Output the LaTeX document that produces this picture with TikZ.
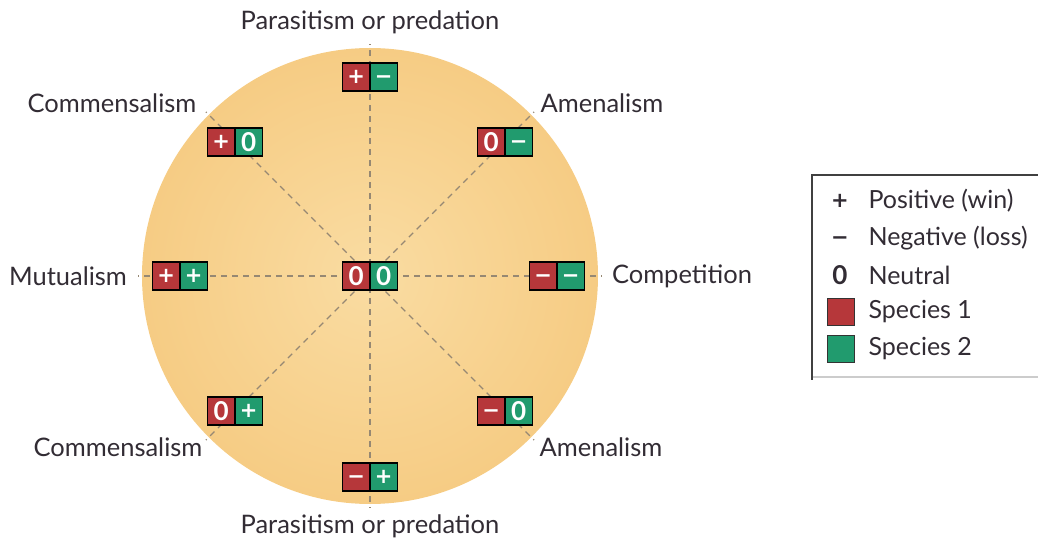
\documentclass[tikz,border=0pt]{standalone}
\usepackage{fontspec}
\setmainfont{Lato}
\newfontfamily\signfont{DejaVu Sans}

\definecolor{spone}{RGB}{182,55,58}
\definecolor{sptwo}{RGB}{33,155,110}
\definecolor{ink}{RGB}{50,44,52}
\definecolor{discout}{RGB}{246,204,132}
\definecolor{discin}{RGB}{250,220,162}
\definecolor{dashgray}{RGB}{150,136,115}

\newcommand{\splus}{{\signfont\fontsize{21}{21}\selectfont\bfseries +}}
\newcommand{\sminus}{{\signfont\fontsize{21}{21}\selectfont\bfseries \vphantom{+}−}}

\tikzset{
  cell/.style={draw=black, line width=1.4pt, minimum width=27.5pt, minimum height=28pt, inner sep=0pt, text=white, font=\fontsize{26}{26}\selectfont\bfseries},
  cellone/.style={cell, fill=spone},
  celltwo/.style={cell, fill=sptwo},
  guide/.style={dash pattern=on 6pt off 5pt, line width=1.3pt, draw=dashgray},
  relname/.style={text=ink, font=\fontsize{25.5}{28}\selectfont},
  keysym/.style={text=ink, font=\fontsize{26}{28}\selectfont\bfseries},
  keytext/.style={text=ink, font=\fontsize{25}{28}\selectfont, anchor=west},
  keybox/.style={draw=black!80, line width=1pt, minimum size=27pt, inner sep=0pt},
}

\begin{document}
\begin{tikzpicture}[x=1pt, y=1pt]
\useasboundingbox (-370,-267) rectangle (668,276);
\coordinate (o) at (0,0);
\shade[inner color=discin, outer color=discout] (o) circle (228);
\coordinate (rE) at (0:232);
\coordinate (rNE) at (45:232);
\coordinate (rN) at (90:232);
\coordinate (rNW) at (135:232);
\coordinate (rW) at (180:232);
\coordinate (rSW) at (225:232);
\coordinate (rS) at (270:232);
\coordinate (rSE) at (315:232);
\draw[guide] (o) -- (rE);
\draw[guide] (o) -- (rNE);
\draw[guide] (o) -- (rN);
\draw[guide] (o) -- (rNW);
\draw[guide] (o) -- (rW);
\draw[guide] (o) -- (rSW);
\draw[guide] (o) -- (rS);
\draw[guide] (o) -- (rSE);
\node[cellone] (neu1) at (-13.75,0) {0};
\node[celltwo] (neu2) at (13.75,0) {0};
\node[cellone] (parN1) at (-13.75,199) {\splus};
\node[celltwo] (parN2) at (13.75,199) {\sminus};
\node[cellone] (parS1) at (-13.75,-201) {\sminus};
\node[celltwo] (parS2) at (13.75,-201) {\splus};
\node[cellone] (mut1) at (-203.75,0) {\splus};
\node[celltwo] (mut2) at (-176.25,0) {\splus};
\node[cellone] (comp1) at (173.25,0) {\sminus};
\node[celltwo] (comp2) at (200.75,0) {\sminus};
\node[cellone] (comN1) at (-148.75,134) {\splus};
\node[celltwo] (comN2) at (-121.25,134) {0};
\node[cellone] (amN1) at (121.25,134) {0};
\node[celltwo] (amN2) at (148.75,134) {\sminus};
\node[cellone] (comS1) at (-148.75,-135) {0};
\node[celltwo] (comS2) at (-121.25,-135) {\splus};
\node[cellone] (amS1) at (121.25,-135) {\sminus};
\node[celltwo] (amS2) at (148.75,-135) {0};
\node[relname] (parN) at (0,254) {Parasitism or predation};
\node[relname] (parS) at (0,-250) {Parasitism or predation};
\node[relname] (comN) at (-258,173) {Commensalism};
\node[relname] (amN) at (232,173) {Amenalism};
\node[relname] (mut) at (-302,0) {Mutualism};
\node[relname] (comp) at (312,0) {Competition};
\node[relname] (comS) at (-252,-171) {Commensalism};
\node[relname] (amS) at (231,-171) {Amenalism};
\draw[black!75, line width=1.2pt] (668,101) -- (442,101) -- (442,-104);
\draw[black!20, line width=2.5pt] (443,-101) -- (668,-101);
\node[keysym] (kpos) at (470,75) {\splus};
\node[keysym] (kneg) at (470,38) {\sminus};
\node[keysym] (kneu) at (470,1) {0};
\node[keybox, fill=spone] (ksp1) at (470.5,-36) {};
\node[keybox, fill=sptwo] (ksp2) at (470.5,-73) {};
\node[keytext] (tpos) at (495,75) {Positive (win)};
\node[keytext] (tneg) at (495,38) {Negative (loss)};
\node[keytext] (tneu) at (495,1) {Neutral};
\node[keytext] (tsp1) at (495,-36) {Species 1};
\node[keytext] (tsp2) at (495,-73) {Species 2};
\end{tikzpicture}
\end{document}
